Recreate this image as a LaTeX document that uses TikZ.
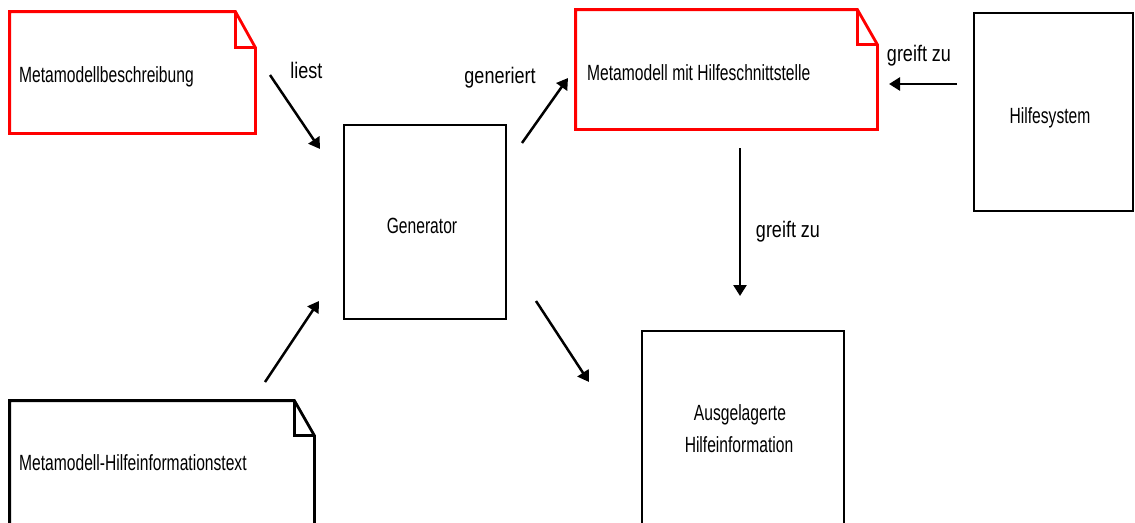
\documentclass[tikz,border=0pt]{standalone}
\usepackage{fontspec}
\usetikzlibrary{arrows.meta}
\newfontfamily\boxfont{Liberation Sans}[FakeStretch=0.71]
\newfontfamily\lblfont{Liberation Sans}[FakeStretch=0.80]
\definecolor{docred}{RGB}{255,0,0}

\tikzset{
  frame/.style={draw=none, inner sep=0pt, line width=2.8pt},
  boxtext/.style={inner sep=0pt, font=\boxfont\fontsize{22}{26}\selectfont},
  lbltext/.style={inner sep=0pt, font=\lblfont\fontsize{22.5}{27}\selectfont},
  flow/.style={line width=2.5pt, -{Triangle[length=11pt,width=13pt]}},
  outline/.style={line width=2.8pt, line join=miter}
}

% document outline with a folded upper-right corner: #1 node, #2 colour, #3 fold dx, #4 fold dy
\newcommand{\docoutline}[4]{%
  \draw[outline, draw=#2]
    (#1.north west) -- ([xshift=-#3]#1.north east) -- ([yshift=-#4]#1.north east)
    -- (#1.south east) -- (#1.south west) -- cycle;
  \draw[outline, draw=#2]
    ([xshift=-#3]#1.north east) |- ([yshift=-#4]#1.north east);
}

\begin{document}
\begin{tikzpicture}[x=1pt, y=-1pt]
\useasboundingbox (0,0) rectangle (1135,522);
\fill[white] (0,0) rectangle (1135,522);

% document shapes
\node[frame, minimum width=243pt, minimum height=119pt] (mb) at (132.5,72.5) {};
\docoutline{mb}{docred}{20pt}{36pt}
\node[boxtext, anchor=base west] (mbt) at (19,82) {Metamodellbeschreibung};

\node[frame, minimum width=299pt, minimum height=117pt] (mh) at (726.5,69.5) {};
\docoutline{mh}{docred}{20pt}{35pt}
\node[boxtext, anchor=base west] (mht) at (587,80) {Metamodell mit Hilfeschnittstelle};

\node[frame, minimum width=302pt, minimum height=140pt] (mi) at (162,472) {};
\docoutline{mi}{black}{20pt}{35pt}
\node[boxtext, anchor=base west] (mit) at (19,470) {Metamodell-Hilfeinformationstext};

% plain boxes
\node[frame, draw=black, minimum width=162pt, minimum height=194pt] (gen) at (425,222) {};
\node[boxtext, anchor=base] (gent) at (422,233) {Generator};

\node[frame, draw=black, minimum width=159pt, minimum height=198pt] (hs) at (1053.5,112) {};
\node[boxtext, anchor=base] (hst) at (1050,123) {Hilfesystem};

\node[frame, draw=black, minimum width=202pt, minimum height=220pt] (ah) at (743,441) {};
\node[boxtext, anchor=base] (aht1) at (740,420) {Ausgelagerte};
\node[boxtext, anchor=base] (aht2) at (739,452) {Hilfeinformation};

% connector end points
\coordinate (a1s) at (270,75);   \coordinate (a1e) at (320,149);
\coordinate (a2s) at (265,382);  \coordinate (a2e) at (319,301);
\coordinate (a3s) at (522,143);  \coordinate (a3e) at (568,78);
\coordinate (a4s) at (536,301);  \coordinate (a4e) at (589,382);
\coordinate (a5s) at (957,84);   \coordinate (a5e) at (889,84);
\coordinate (a6s) at (740,148);  \coordinate (a6e) at (740,296);

\draw[flow] (a1s) -- (a1e);
\draw[flow] (a2s) -- (a2e);
\draw[flow] (a3s) -- (a3e);
\draw[flow] (a4s) -- (a4e);
\draw[flow] (a5s) -- (a5e);
\draw[flow] (a6s) -- (a6e);

% connector labels
\node[lbltext, anchor=base] (l1) at (306.5,78) {liest};
\node[lbltext, anchor=base] (l2) at (500,83) {generiert};
\node[lbltext, anchor=base] (l3) at (919,61) {greift zu};
\node[lbltext, anchor=base] (l4) at (788,237) {greift zu};
\end{tikzpicture}
\end{document}
